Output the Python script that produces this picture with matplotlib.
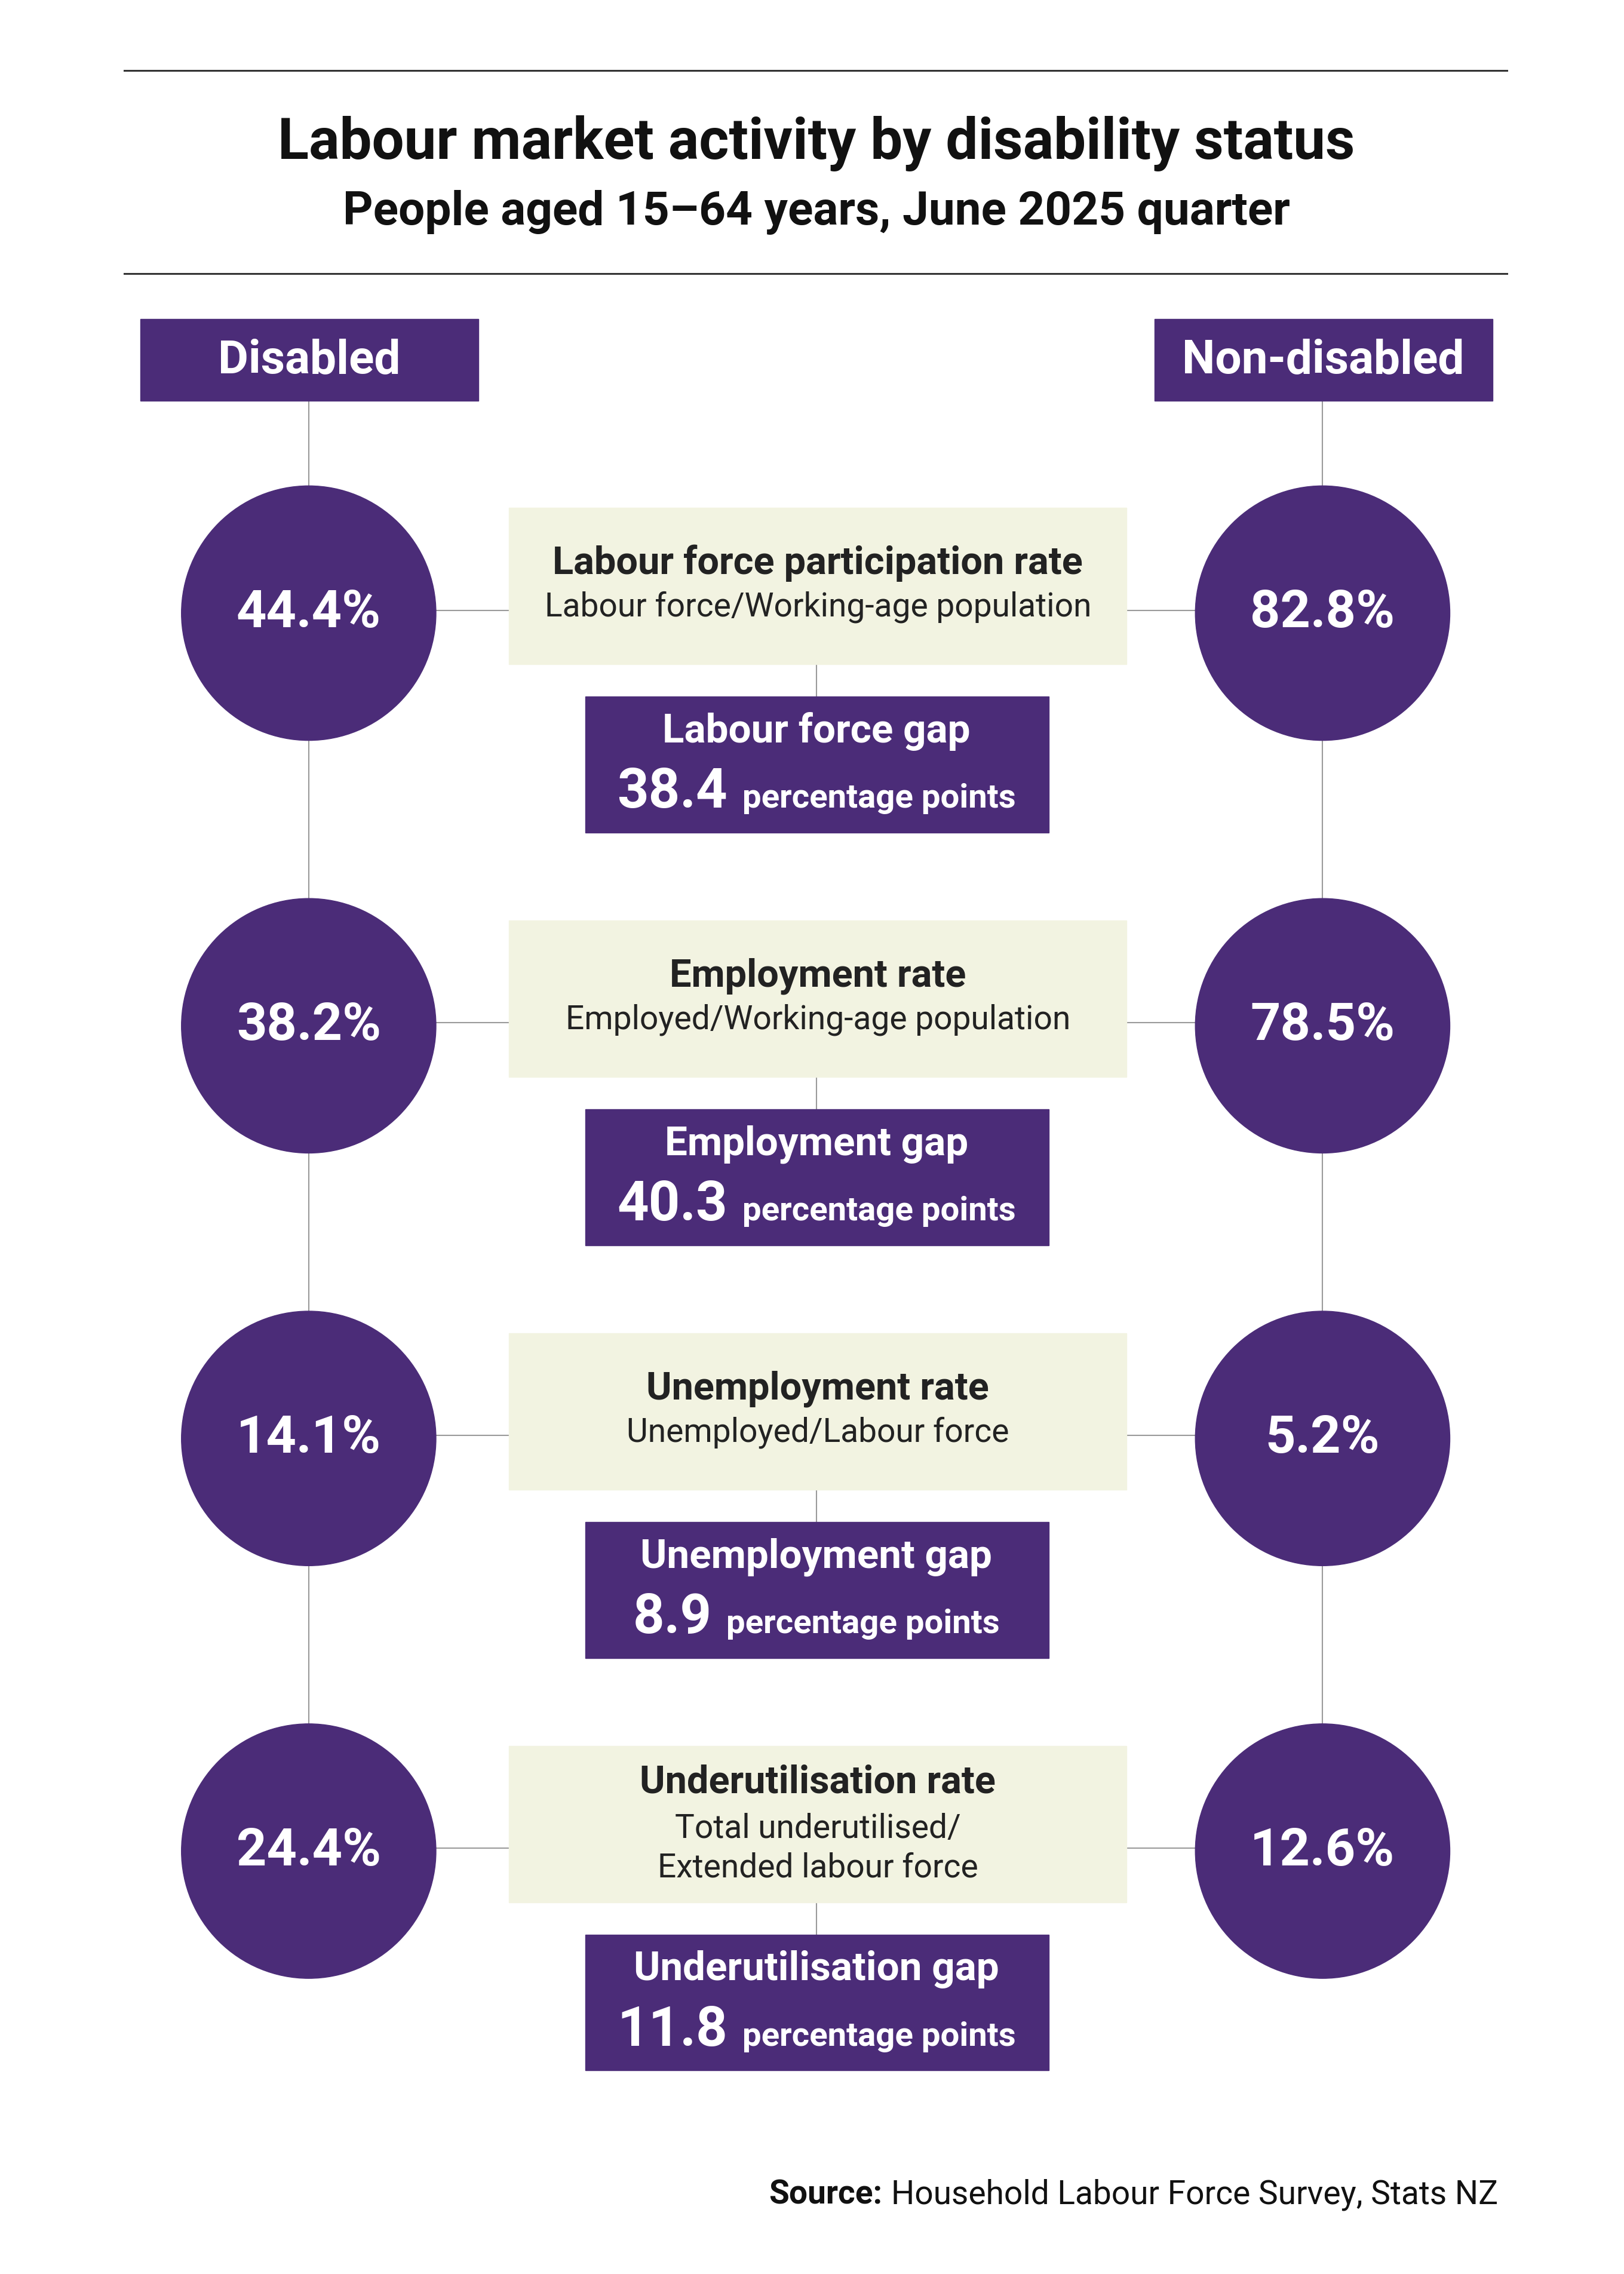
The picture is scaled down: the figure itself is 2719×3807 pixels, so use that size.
import matplotlib
matplotlib.use("Agg")
import matplotlib.pyplot as plt
from matplotlib.patches import Circle, Rectangle

measures = ["Labour force participation rate", "Employment rate",
            "Unemployment rate", "Underutilisation rate"]
formulas = ["Labour force/Working-age population", "Employed/Working-age population",
            "Unemployed/Labour force", "Total underutilised/\nExtended labour force"]
disabled = [44.4, 38.2, 14.1, 24.4]
non_disabled = [82.8, 78.5, 5.2, 12.6]
gap_names = ["Labour force gap", "Employment gap", "Unemployment gap", "Underutilisation gap"]
gaps = [38.4, 40.3, 8.9, 11.8]

PURPLE = "#4b2c78"
CREAM = "#f2f3e1"
GREY = "#9a9a9a"
S = 2719 / 1110


def fs(em):
    return em * S * 0.72


plt.rcParams["font.family"] = "Roboto"
fig = plt.figure(figsize=(27.19, 38.07), dpi=100)
ax = fig.add_axes([0, 0, 1, 1])
ax.set_xlim(0, 1110)
ax.set_ylim(1554, 0)
ax.axis("off")
r = fig.canvas.get_renderer()


def width(t):
    bb = t.get_window_extent(r)
    return bb.width / fig.bbox.width * 1110


for y in (48, 187):
    ax.plot([85, 1030], [y, y], color="#333333", lw=2.2)
ax.text(558, 98, "Labour market activity by disability status", ha="center", va="center",
        fontsize=fs(39.2), fontweight="bold", color="#111111")
ax.text(558, 145, "People aged 15\u201364 years, June 2025 quarter", ha="center", va="center",
        fontsize=fs(32), fontweight="bold", color="#111111")

for x0, label in ((96, "Disabled"), (789, "Non-disabled")):
    ax.add_patch(Rectangle((x0, 218), 231, 56, color=PURPLE, zorder=2))
    ax.text(x0 + 115.5, 246, label, ha="center", va="center", fontsize=fs(32),
            fontweight="bold", color="white", zorder=3)

cy = [419, 701, 983, 1265]
lx, rx = 211, 904
for x in (lx, rx):
    ax.plot([x, x], [274, cy[-1]], color=GREY, lw=1.5, zorder=1)

for i in range(4):
    y = cy[i]
    ax.plot([lx, rx], [y - 2, y - 2], color=GREY, lw=1.5, zorder=1)
    ax.plot([558, 558], [y, y + 110], color=GREY, lw=1.5, zorder=1)
    for x, v in ((lx, disabled[i]), (rx, non_disabled[i])):
        ax.add_patch(Circle((x, y), 87, color=PURPLE, zorder=2))
        ax.text(x, y, f"{v}%", ha="center", va="center", fontsize=fs(36),
                fontweight="bold", color="white", zorder=3)
    top = y - 72
    ax.add_patch(Rectangle((348, top), 422, 107, color=CREAM, zorder=2))
    if "\n" in formulas[i]:
        ax.text(559, top + 25, measures[i], ha="center", va="center", fontsize=fs(26.5),
                fontweight="bold", color="#222222", zorder=3)
        ax.text(559, top + 70, formulas[i], ha="center", va="center", fontsize=fs(22.5),
                color="#222222", zorder=3, linespacing=1.3)
    else:
        ax.text(559, top + 38, measures[i], ha="center", va="center", fontsize=fs(26.5),
                fontweight="bold", color="#222222", zorder=3)
        ax.text(559, top + 68, formulas[i], ha="center", va="center", fontsize=fs(22.5),
                color="#222222", zorder=3)
    gt = y + 57
    ax.add_patch(Rectangle((400, gt), 317, 93, color=PURPLE, zorder=2))
    ax.text(558, gt + 24, gap_names[i], ha="center", va="center", fontsize=fs(27.5),
            fontweight="bold", color="white", zorder=3)
    t1 = ax.text(0, gt + 76, f"{gaps[i]}", ha="left", va="baseline", fontsize=fs(37.5),
                 fontweight="bold", color="white", zorder=3)
    t2 = ax.text(0, gt + 76, "percentage points", ha="left", va="baseline",
                 fontsize=fs(23), fontweight="bold", color="white", zorder=3)
    w1, w2, sp = width(t1), width(t2), 10
    x0 = 558 - (w1 + sp + w2) / 2
    t1.set_x(x0)
    t2.set_x(x0 + w1 + sp)

s2 = ax.text(1024, 1500, "Household Labour Force Survey, Stats NZ", ha="right",
             va="center", fontsize=fs(22.5), color="#111111")
ax.text(1024 - width(s2) - 6, 1500, "Source:", ha="right", va="center",
        fontsize=fs(22.5), fontweight="bold", color="#111111")

fig.savefig("out.png", dpi=100)
